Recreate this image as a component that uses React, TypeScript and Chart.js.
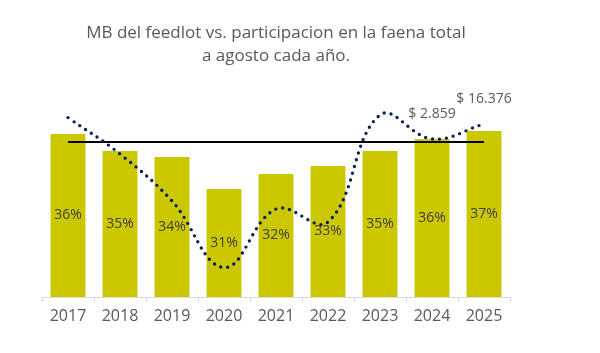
import React, { useEffect, useRef } from "react";
import { Chart, registerables } from "chart.js";

Chart.register(...registerables);

const years = ["2017", "2018", "2019", "2020", "2021", "2022", "2023", "2024", "2025"];
const participacion = [36.3, 34.6, 34.0, 30.8, 32.3, 33.1, 34.6, 35.8, 36.6];
const promedio = [35.5, 35.5, 35.5, 35.5, 35.5, 35.5, 35.5, 35.5, 35.5];
const mbIndex = [89.7, 71.5, 48, 14.7, 44, 37.5, 91, 79, 86.5];
const mbLabels = ["", "", "", "", "", "", "", "$ 2.859", "$ 16.376"];
const titleLines = ["MB del feedlot vs. participacion en la faena total", "a agosto cada año."];

const FONT = "'Open Sans', sans-serif";

const labelsPlugin = {
  id: "customLabels",
  afterDatasetsDraw(chart: any) {
    const ctx = chart.ctx;
    ctx.save();
    const area = chart.chartArea;
    const cx = (area.left + area.right) / 2;
    ctx.fillStyle = "#595959";
    ctx.font = `17px ${FONT}`;
    ctx.textAlign = "center";
    ctx.textBaseline = "middle";
    titleLines.forEach((t, i) => ctx.fillText(t, cx, 33 + i * 23));

    const barMeta = chart.getDatasetMeta(0);
    ctx.font = `14px ${FONT}`;
    ctx.fillStyle = "#404040";
    barMeta.data.forEach((bar: any, i: number) => {
      const y = (bar.y + area.bottom) / 2;
      ctx.fillText(Math.round(participacion[i]) + "%", bar.x, y);
    });

    const lineMeta = chart.getDatasetMeta(2);
    ctx.fillStyle = "#595959";
    lineMeta.data.forEach((pt: any, i: number) => {
      if (mbLabels[i]) ctx.fillText(mbLabels[i], pt.x, pt.y - 25);
    });
    ctx.restore();
  },
};

export default function App() {
  const ref = useRef<HTMLCanvasElement>(null);
  useEffect(() => {
    if (!ref.current) return;
    const chart = new Chart(ref.current, {
      type: "bar",
      data: {
        labels: years,
        datasets: [
          {
            type: "bar",
            data: participacion,
            backgroundColor: "#CCC800",
            barPercentage: 0.67,
            categoryPercentage: 1,
            yAxisID: "y",
            order: 3,
          },
          {
            type: "line",
            data: promedio,
            borderColor: "#000000",
            borderWidth: 2,
            pointRadius: 0,
            yAxisID: "y",
            order: 2,
          },
          {
            type: "line",
            data: mbIndex,
            borderColor: "#0A1F5C",
            borderWidth: 3.4,
            borderDash: [0, 7],
            borderCapStyle: "round",
            tension: 0.4,
            pointRadius: 0,
            yAxisID: "y2",
            order: 1,
          },
        ] as any,
      },
      options: {
        animation: false,
        responsive: true,
        maintainAspectRatio: false,
        layout: { padding: { left: 42, right: 90, top: 97, bottom: 0 } },
        plugins: {
          legend: { display: false },
          tooltip: { enabled: false },
          title: { display: false },
        },
        scales: {
          x: {
            offset: true,
            grid: {
              display: true,
              offset: true,
              drawOnChartArea: false,
              drawTicks: true,
              tickLength: 5,
              color: "#D9D9D9",
            },
            border: { display: true, color: "#D9D9D9", width: 1 },
            ticks: {
              color: "#595959",
              font: { family: FONT, size: 16 },
              padding: 5,
            },
            afterFit(scale: any) {
              scale.height = 56;
            },
          },
          y: { display: false, min: 20, max: 40 },
          y2: { display: false, min: 0, max: 100 },
        },
      } as any,
      plugins: [labelsPlugin],
    });
    return () => chart.destroy();
  }, []);
  return (
    <div style={{ position: "fixed", left: 0, top: 0, width: 600, height: 353, background: "#fff" }}>
      <canvas ref={ref} />
    </div>
  );
}
